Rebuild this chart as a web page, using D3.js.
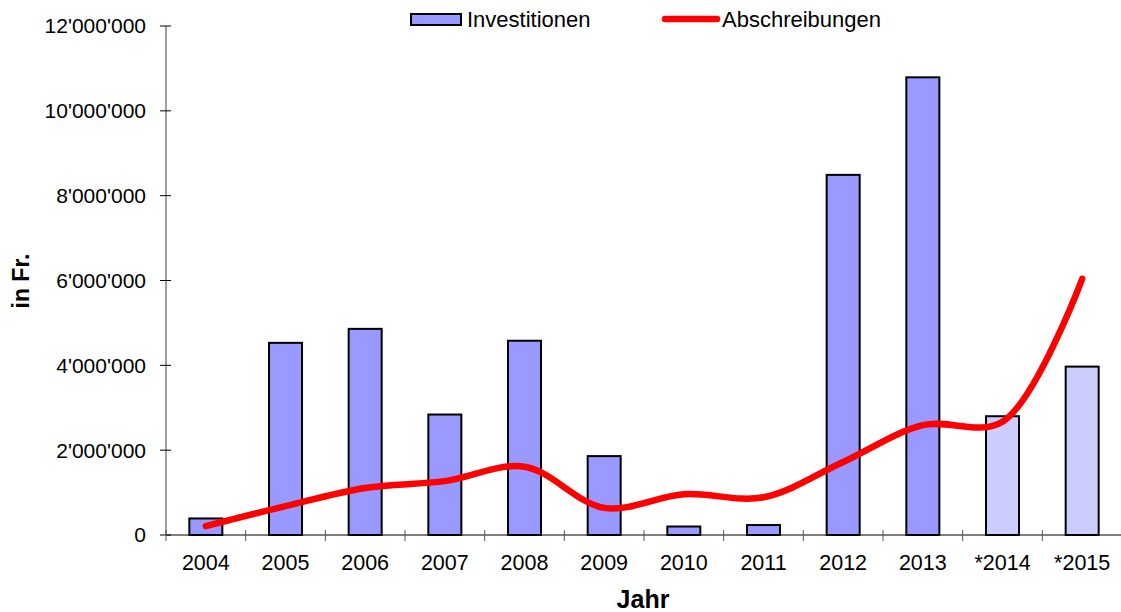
<!DOCTYPE html>
<html>
<head>
<meta charset="utf-8">
<script src="https://cdn.jsdelivr.net/npm/d3@7"></script>
<style>
  html, body { margin: 0; padding: 0; background: #fff; }
  svg { display: block; font-family: "Liberation Sans", Arial, sans-serif; }
</style>
</head>
<body>
<svg id="chart" width="1121" height="612"></svg>
<script>
// Jahre (mit * = Budget / Planung)
const years = ["2004", "2005", "2006", "2007", "2008", "2009", "2010", "2011", "2012", "2013", "*2014", "*2015"];
// Investitionen in Fr.
const investitionen = [390000, 4530000, 4860000, 2840000, 4580000, 1860000, 200000, 235000, 8490000, 10790000, 2800000, 3970000];
// Abschreibungen in Fr.
const abschreibungen = [210000, 680000, 1110000, 1270000, 1610000, 640000, 960000, 890000, 1720000, 2590000, 2670000, 6040000];
// Achsenbeschriftung
const yTicks = [0, 2000000, 4000000, 6000000, 8000000, 10000000, 12000000];
const seriesNames = ["Investitionen", "Abschreibungen"];

const svg = d3.select("#chart");
const plotLeft = 166, plotRight = 1122, plotTop = 26, plotBottom = 535;

const x = d3.scaleBand().domain(years).range([plotLeft, plotRight]).paddingInner(0).paddingOuter(0);
const y = d3.scaleLinear().domain([0, 12000000]).range([plotBottom, plotTop]);

const fmt = v => d3.format(",")(v).replace(/,/g, "'");

// Balken
const barW = 33;
svg.append("g").selectAll("rect").data(years).join("rect")
  .attr("x", d => x(d) + x.bandwidth() / 2 - barW / 2)
  .attr("y", (d, i) => y(investitionen[i]))
  .attr("width", barW)
  .attr("height", (d, i) => y(0) - y(investitionen[i]))
  .attr("fill", d => d.startsWith("*") ? "#ccccff" : "#9999ff")
  .attr("stroke", "#000")
  .attr("stroke-width", 2);

// Y-Achse
const yAxis = svg.append("g").attr("transform", `translate(${plotLeft},0)`);
yAxis.append("line").attr("x1", 0).attr("x2", 0).attr("y1", y(12000000)).attr("y2", y(0))
  .attr("stroke", "#808080").attr("stroke-width", 1.5);
yAxis.selectAll("line.tick").data(yTicks).join("line").attr("class", "tick")
  .attr("x1", -6).attr("x2", 5).attr("y1", d => y(d)).attr("y2", d => y(d))
  .attr("stroke", "#000").attr("stroke-width", 1);
yAxis.selectAll("text").data(yTicks).join("text")
  .attr("x", -20).attr("y", d => y(d)).attr("dy", "0.35em")
  .attr("text-anchor", "end").attr("font-size", 21).attr("fill", "#000")
  .text(fmt);

// X-Achse
const xAxis = svg.append("g");
xAxis.append("line").attr("x1", plotLeft).attr("x2", plotRight).attr("y1", plotBottom).attr("y2", plotBottom)
  .attr("stroke", "#000").attr("stroke-width", 1.2);
const xTicks = years.map(d => x(d)).concat([plotRight]);
xAxis.selectAll("line.tick").data(xTicks).join("line").attr("class", "tick")
  .attr("x1", d => d).attr("x2", d => d).attr("y1", plotBottom - 5).attr("y2", plotBottom + 6)
  .attr("stroke", "#555").attr("stroke-width", 1);
xAxis.selectAll("text").data(years).join("text")
  .attr("x", d => x(d) + x.bandwidth() / 2).attr("y", 570)
  .attr("text-anchor", "middle").attr("font-size", 21.5).attr("fill", "#000")
  .text(d => d);

// Linie Abschreibungen (geglättet)
const line = d3.line()
  .x((d, i) => x(years[i]) + x.bandwidth() / 2)
  .y(d => y(d))
  .curve(d3.curveCatmullRom.alpha(0.5));
svg.append("path").datum(abschreibungen)
  .attr("d", line)
  .attr("fill", "none").attr("stroke", "#ff0000").attr("stroke-width", 6.5)
  .attr("stroke-linecap", "round").attr("stroke-linejoin", "round");

// Achsentitel
svg.append("text").attr("x", 643).attr("y", 608).attr("text-anchor", "middle")
  .attr("font-size", 25).attr("font-weight", "bold").text("Jahr");
svg.append("text").attr("transform", "translate(29,281) rotate(-90)").attr("text-anchor", "middle")
  .attr("font-size", 23).attr("font-weight", "bold").text("in Fr.");

// Legende
const lg = svg.append("g");
lg.append("rect").attr("x", 411).attr("y", 14).attr("width", 50).attr("height", 11)
  .attr("fill", "#9999ff").attr("stroke", "#000").attr("stroke-width", 2);
lg.append("text").attr("x", 467).attr("y", 27).attr("font-size", 22).text(seriesNames[0]);
lg.append("line").attr("x1", 665).attr("x2", 717).attr("y1", 19).attr("y2", 19)
  .attr("stroke", "#ff0000").attr("stroke-width", 6.5).attr("stroke-linecap", "round");
lg.append("text").attr("x", 722).attr("y", 27).attr("font-size", 22).text(seriesNames[1]);
</script>
</body>
</html>
